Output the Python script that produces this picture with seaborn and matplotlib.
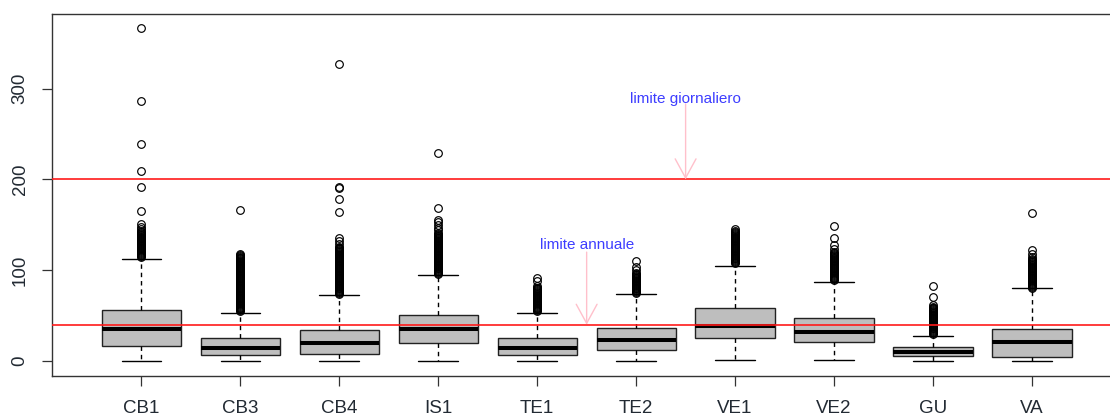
import matplotlib
matplotlib.use("Agg")
import matplotlib.pyplot as plt
import pandas as pd
import seaborn as sns

# ---- data ----
stations = ["CB1", "CB3", "CB4", "IS1", "TE1", "TE2", "VE1", "VE2", "GU", "VA"]
whisker_lo = [0, 0, 0, 0, 0, 0, 1, 1, 0, 0]
q1 = [16.5, 6.3, 7.4, 20.5, 6.3, 12.5, 25.6, 20.6, 5.9, 4.5]
median = [35.5, 14, 19.5, 35.5, 14, 23.5, 38.5, 32.3, 10.3, 20.6]
q3 = [55.8, 25.6, 33.8, 50.5, 25.6, 37, 58.3, 47.7, 15.4, 34.9]
whisker_hi = [112, 53, 72.3, 95, 53, 73.5, 105.2, 86.9, 28.2, 80]

out_CB1 = [115, 116, 117, 118, 119, 120, 121, 122, 123, 124, 125, 126, 127, 128, 129,
           130, 131, 132, 133, 134, 135, 136, 137, 138, 139, 140, 141, 142, 143,
           145, 148, 151, 165, 192, 209, 239, 286, 367]
out_CB3 = [55, 56, 57, 58, 59, 60, 61, 62, 63, 64, 65, 66, 67, 68, 69, 70, 71, 72, 73, 74,
           75, 76, 77, 78, 79, 80, 81, 82, 83, 84, 85, 86, 87, 88, 89, 90, 91, 92, 93, 94,
           95, 96, 97, 98, 99, 100, 101, 102, 103, 104, 105, 106, 107, 108, 109, 110, 111,
           112, 113, 114, 115, 116, 117, 118, 166]
out_CB4 = [74, 75, 76, 77, 78, 79, 80, 81, 82, 83, 84, 85, 86, 87, 88, 89, 90, 91, 92, 93,
           94, 95, 96, 97, 98, 99, 100, 101, 102, 103, 104, 105, 106, 107, 108, 109, 110,
           111, 112, 113, 114, 115, 116, 117, 118, 119, 120, 121, 122, 123, 124, 125, 126,
           129, 132, 135, 164, 178, 190, 192, 327]
out_IS1 = [96, 97, 98, 99, 100, 101, 102, 103, 104, 105, 106, 107, 108, 109, 110, 111, 112,
           113, 114, 115, 116, 117, 118, 119, 120, 121, 122, 123, 124, 125, 126, 127, 128,
           129, 130, 131, 132, 133, 134, 135, 136, 137, 138, 139, 140, 141,
           144, 147, 150, 153, 155, 169, 229]
out_TE1 = [55, 56, 57, 58, 59, 60, 61, 62, 63, 64, 65, 66, 67, 68, 69, 70, 71, 72, 73, 74,
           75, 76, 77, 78, 79, 80, 81, 83, 88, 92]
out_TE2 = [75, 76, 77, 78, 79, 80, 81, 82, 83, 84, 85, 86, 87, 88, 89, 90, 91, 92, 93, 94,
           95, 96, 97, 100, 104, 110]
out_VE1 = [108, 109, 110, 111, 112, 113, 114, 115, 116, 117, 118, 119, 120, 121, 122, 123,
           124, 125, 126, 127, 128, 129, 130, 131, 132, 133, 134, 135, 136, 137, 138, 139,
           140, 141, 142, 143, 145]
out_VE2 = [89, 90, 91, 92, 93, 94, 95, 96, 97, 98, 99, 100, 101, 102, 103, 104, 105, 106,
           107, 108, 109, 110, 111, 112, 113, 114, 115, 116, 117, 118, 119, 120,
           123, 128, 135, 149]
out_GU = [30, 31, 32, 33, 34, 35, 36, 37, 38, 39, 40, 41, 42, 43, 44, 45, 46, 47, 48, 49,
          50, 51, 52, 53, 54, 55, 56, 57, 58, 59, 60, 62, 71, 83]
out_VA = [81, 82, 83, 84, 85, 86, 87, 88, 89, 90, 91, 92, 93, 94, 95, 96, 97, 98, 99, 100,
          101, 102, 103, 104, 105, 106, 107, 108, 109, 110, 111, 112, 115, 118, 122, 163]
outliers = [out_CB1, out_CB3, out_CB4, out_IS1, out_TE1, out_TE2, out_VE1, out_VE2, out_GU, out_VA]

limits = [200, 40]
ann_labels = ["limite giornaliero", "limite annuale"]

# ---- long-form table whose quartiles equal the values read above ----
B = 100
rows = []
for i, s in enumerate(stations):
    vals = ([whisker_lo[i]] + [q1[i]] * B + [median[i]] * B + [q3[i]] * B
            + [whisker_hi[i]] + list(outliers[i]))
    rows += [(s, v) for v in vals]
df = pd.DataFrame(rows, columns=["station", "value"])

sns.set_style("ticks")
plt.rcParams["font.family"] = ["Liberation Sans", "DejaVu Sans"]

fig = plt.figure(figsize=(11.1, 4.19), dpi=100)
ax = fig.add_axes([52.3 / 1110, 43.3 / 419, (1121 - 52.3) / 1110, (375.7 - 14) / 419])

sns.boxplot(
    data=df, x="station", y="value", order=stations, ax=ax,
    color="#bebebe", saturation=1, linecolor="black", linewidth=1.0,
    width=0.8, whis=1.5, fliersize=5.5,
    medianprops=dict(color="black", linewidth=2.9),
    whiskerprops=dict(color="black", linewidth=1.0, linestyle=(0, (3.2, 2.8))),
    capprops=dict(color="black", linewidth=1.0),
    boxprops=dict(facecolor="#bebebe", edgecolor="#222222", linewidth=1.0),
    flierprops=dict(marker="o", markerfacecolor="none", markeredgecolor="black",
                    markeredgewidth=0.85, markersize=5.5),
)

for y in limits:
    ax.axhline(y, color="#ff1a1a", lw=1.2, zorder=5)

arrow_style = "->,head_length=0.55,head_width=0.3"
# limite giornaliero
ax.annotate("", xy=(5.5, limits[0]), xytext=(5.5, 283),
            arrowprops=dict(arrowstyle=arrow_style, color="pink", lw=1,
                            shrinkA=0, shrinkB=0, mutation_scale=25), zorder=6)
ax.text(5.5, 289, ann_labels[0], color="#3d3dff", fontsize=11, ha="center", va="center")
# limite annuale
ax.annotate("", xy=(4.5, limits[1]), xytext=(4.5, 120),
            arrowprops=dict(arrowstyle=arrow_style, color="pink", lw=1,
                            shrinkA=0, shrinkB=0, mutation_scale=25), zorder=6)
ax.text(4.5, 128, ann_labels[1], color="#3d3dff", fontsize=11, ha="center", va="center")

ax.set_xlim(-0.9, 9.9)
ax.set_ylim(-16, 382)
ax.set_yticks([0, 100, 200, 300])
ax.set_yticklabels(["0", "100", "200", "300"], rotation=90, va="center")
ax.set_xlabel("")
ax.set_ylabel("")
ax.tick_params(axis="both", length=7.5, width=0.9, color="#333333",
               labelsize=13.5, labelcolor="#222a33")
ax.tick_params(axis="y", pad=9.5)
ax.tick_params(axis="x", pad=10)
for side in ["left", "bottom", "top"]:
    ax.spines[side].set_color("#333333")
    ax.spines[side].set_linewidth(1.0)
    ax.spines[side].set_visible(True)
ax.spines["right"].set_visible(False)

fig.savefig("out.png", dpi=100)
